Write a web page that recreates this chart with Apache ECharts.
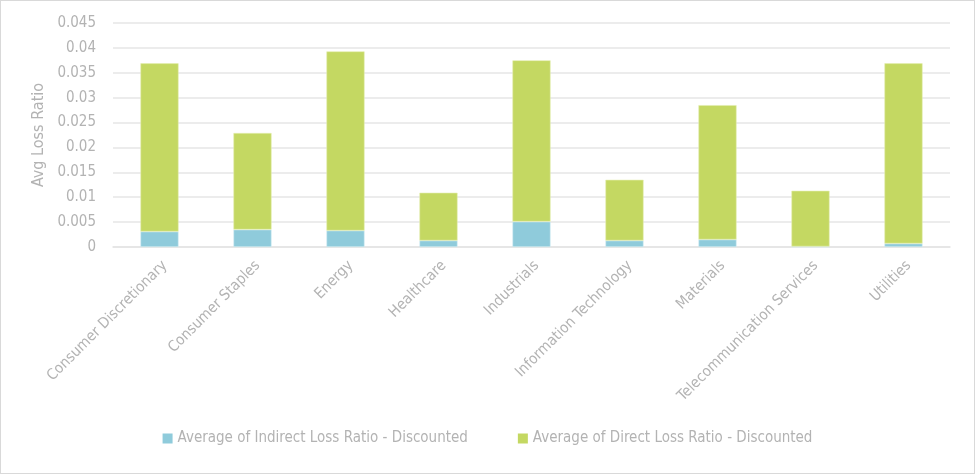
<!DOCTYPE html>
<html>
<head>
<meta charset="utf-8">
<script src="https://cdn.jsdelivr.net/npm/echarts@6/dist/echarts.min.js"></script>
<style>
html,body{margin:0;padding:0;background:#fff;}
#frame{position:absolute;left:0;top:0;width:973px;height:472px;border:1px solid #d9d9d9;}
#chart{width:973px;height:472px;}
</style>
</head>
<body>
<div id="frame"><div id="chart"></div></div>
<script>
const categories = ['Consumer Discretionary','Consumer Staples','Energy','Healthcare','Industrials','Information Technology','Materials','Telecommunication Services','Utilities'];
const indirectLoss = [0.0031, 0.0035, 0.0033, 0.0013, 0.0051, 0.0013, 0.0015, 0.0001, 0.0007];
const directLoss = [0.0338, 0.0194, 0.0360, 0.0096, 0.0324, 0.0122, 0.0270, 0.0112, 0.0362];
const seriesNames = ['Average of Indirect Loss Ratio - Discounted','Average of Direct Loss Ratio - Discounted'];
const yTickLabels = ['0','0.005','0.01','0.015','0.02','0.025','0.03','0.035','0.04','0.045'];

const FONT = "'DejaVu Sans Condensed','Liberation Sans Narrow',sans-serif";
const TXT = '#b3b3b3';
const chart = echarts.init(document.getElementById('chart'));
chart.setOption({
  animation: false,
  textStyle: {fontFamily: FONT},
  grid: {left: 112, right: 24, top: 22, bottom: 226},
  legend: {
    bottom: 22, left: 'center', itemWidth: 10, itemHeight: 10, itemGap: 50, icon: 'rect',
    itemStyle: {borderWidth: 0},
    textStyle: {color: TXT, fontSize: 15, fontFamily: FONT},
    data: seriesNames
  },
  xAxis: {
    type: 'category', data: categories,
    axisLine: {lineStyle: {color: '#e3e3e3', width: 1.5}},
    axisTick: {show: false},
    axisLabel: {rotate: 45, color: TXT, fontSize: 15, fontFamily: FONT, interval: 0, margin: 11, verticalAlign: 'top'}
  },
  yAxis: {
    type: 'value', min: 0, max: 0.045, interval: 0.005,
    name: 'Avg Loss Ratio', nameLocation: 'middle', nameGap: 55, nameRotate: 90,
    nameTextStyle: {color: TXT, fontSize: 16, fontFamily: FONT},
    axisLine: {show: false}, axisTick: {show: false},
    splitLine: {lineStyle: {color: '#e6e6e6', width: 1.5}},
    axisLabel: {color: TXT, fontSize: 15, fontFamily: FONT, margin: 17,
      formatter: function (v) { const i = Math.round(v / 0.005); return yTickLabels[i] !== undefined ? yTickLabels[i] : ''; }}
  },
  series: [
    {name: seriesNames[0], type: 'bar', stack: 'a', data: indirectLoss, barWidth: '41%',
     itemStyle: {color: '#8fcbdb', borderColor: '#d6eef4', borderWidth: 0.6}},
    {name: seriesNames[1], type: 'bar', stack: 'a', data: directLoss, barWidth: '41%',
     itemStyle: {color: '#c4d862', borderColor: '#e4eeb0', borderWidth: 0.6}}
  ]
});
</script>
</body>
</html>
